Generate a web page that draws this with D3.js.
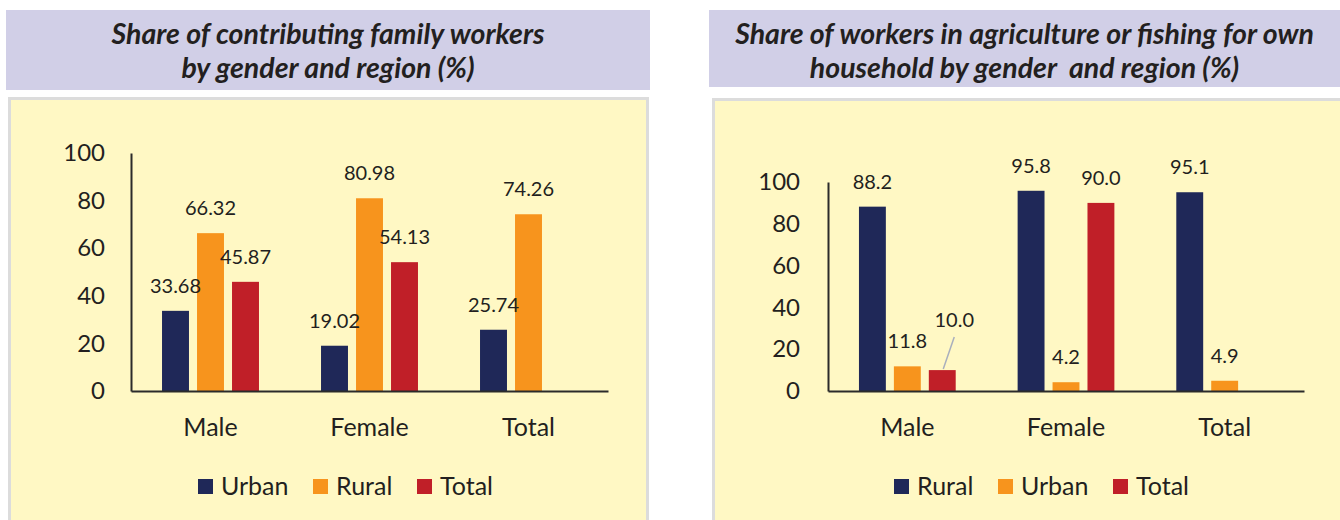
<!DOCTYPE html>
<html><head><meta charset="utf-8">
<script src="https://cdn.jsdelivr.net/npm/d3@7/dist/d3.min.js"></script>
<style>
html,body{margin:0;padding:0;background:#fff;}
svg{display:block;font-family:Lato,"Open Sans",sans-serif;}
</style></head>
<body>
<svg id="c" width="1340" height="520"></svg>
<script>
// ---- data ----
const groups = ["Male", "Female", "Total"];
const yTicks = [0, 20, 40, 60, 80, 100];

const leftTitle = ["Share of contributing family workers", "by gender and region (%)"];
const leftSeries = ["Urban", "Rural", "Total"];
const leftUrban = [33.68, 19.02, 25.74];
const leftRural = [66.32, 80.98, 74.26];
const leftTotal = [45.87, 54.13, null];

const rightTitle = ["Share of workers in agriculture or fishing for own", "household by gender  and region (%)"];
const rightSeries = ["Rural", "Urban", "Total"];
const rightRural = [88.2, 95.8, 95.1];
const rightUrban = [11.8, 4.2, 4.9];
const rightTotal = [10.0, 90.0, null];

// ---- style ----
const colors = ["#1f2858", "#f7941d", "#c01f28"];
const textColor = "#231f20";
const svg = d3.select("#c");

function panel(cfg) {
  const g = svg.append("g");
  // title box
  g.append("rect").attr("x", cfg.tx).attr("y", 10).attr("width", cfg.tw).attr("height", cfg.th)
    .attr("fill", "#d1cfe7");
  cfg.title.forEach((t, i) => {
    g.append("text").attr("x", cfg.tx + cfg.tw / 2).attr("y", 44 + i * 34)
      .attr("text-anchor", "middle").attr("font-size", 28.5).attr("font-weight", 700)
      .attr("font-style", "italic").attr("fill", textColor)
      .style("white-space", "pre").attr("xml:space", "preserve").text(t);
  });
  // yellow panel
  g.append("rect").attr("x", cfg.px).attr("y", cfg.py).attr("width", cfg.pw).attr("height", 520)
    .attr("fill", "#fff8c4").attr("stroke", "#dcdcdc").attr("stroke-width", 3);

  const x0 = d3.scaleBand().domain(groups).range([cfg.x0, cfg.x1]);
  const x1 = d3.scaleBand().domain(cfg.series).range([27, 132]).paddingInner(0.23).paddingOuter(0.115);
  const y = d3.scaleLinear().domain([0, 100]).range([391, cfg.yTop]);

  // bars
  const data = [];
  groups.forEach((grp, gi) => {
    cfg.values.forEach((arr, si) => {
      if (arr[gi] != null) data.push({grp, s: cfg.series[si], si, v: arr[gi]});
    });
  });
  const scale = x0.bandwidth() / 159;
  g.selectAll("rect.bar").data(data).enter().append("rect").attr("class", "bar")
    .attr("x", d => x0(d.grp) + x1(d.s) * scale)
    .attr("width", x1.bandwidth() * scale)
    .attr("y", d => y(d.v)).attr("height", d => y(0) - y(d.v))
    .attr("fill", d => colors[d.si]);

  // value labels
  g.selectAll("text.val").data(data).enter().append("text").attr("class", "val")
    .attr("x", d => x0(d.grp) + (x1(d.s) + x1.bandwidth() / 2) * scale)
    .attr("y", d => y(d.v) - 18)
    .attr("text-anchor", "middle").attr("font-size", 20).attr("fill", textColor)
    .each(function (d) {
      const sel = d3.select(this);
      sel.text(d3.format(cfg.fmt)(d.v));
      if (cfg.leader && cfg.leader.grp === d.grp && cfg.leader.s === d.s) {
        const cx = x0(d.grp) + (x1(d.s) + x1.bandwidth() / 2) * scale;
        sel.attr("x", cx + cfg.leader.dx).attr("y", y(d.v) - cfg.leader.dy);
        g.append("line").attr("x1", cx + cfg.leader.dx).attr("y1", y(d.v) - cfg.leader.dy + 10)
          .attr("x2", cx + 1).attr("y2", y(d.v) - 1)
          .attr("stroke", "#a9afbd").attr("stroke-width", 1.5);
      }
    });

  // axes
  const yAxis = d3.axisLeft(y).tickValues(yTicks).tickSize(0).tickPadding(cfg.tickPad);
  const ya = g.append("g").attr("transform", `translate(${cfg.x0},0)`).call(yAxis);
  ya.select(".domain").attr("stroke", "#2b2b2b").attr("stroke-width", 2);
  ya.selectAll("text").attr("font-size", 24).attr("fill", textColor).attr("font-family", "Lato");

  const xAxis = d3.axisBottom(x0).tickSize(0).tickPadding(27);
  const xa = g.append("g").attr("transform", "translate(0,391)").call(xAxis);
  xa.select(".domain").attr("stroke", "#2b2b2b").attr("stroke-width", 2);
  xa.selectAll("text").attr("font-size", 25).attr("fill", textColor).attr("font-family", "Lato");

  // legend
  const lg = g.append("g").selectAll("g").data(cfg.series).enter().append("g")
    .attr("transform", (d, i) => `translate(${cfg.legendX[i]},0)`);
  lg.append("rect").attr("x", 0).attr("y", 479).attr("width", 15).attr("height", 15)
    .attr("fill", (d, i) => colors[i]);
  lg.append("text").attr("x", 23).attr("y", 495).attr("font-size", 25).attr("fill", textColor).text(d => d);
}

panel({
  title: leftTitle, tx: 6, tw: 644, th: 80,
  px: 9.5, py: 98.5, pw: 638,
  x0: 131, x1: 608, yTop: 153, tickPad: 26,
  series: leftSeries, values: [leftUrban, leftRural, leftTotal], fmt: ".2f",
  legendX: [198, 313, 417]
});
panel({
  title: rightTitle, tx: 709, tw: 631, th: 77,
  px: 713.5, py: 99.5, pw: 640,
  x0: 828, x1: 1304, yTop: 182, tickPad: 28,
  series: rightSeries, values: [rightRural, rightUrban, rightTotal], fmt: ".1f",
  legendX: [894, 998, 1113],
  leader: {grp: "Male", s: "Total", dx: 12, dy: 43}
});
</script>
</body></html>
